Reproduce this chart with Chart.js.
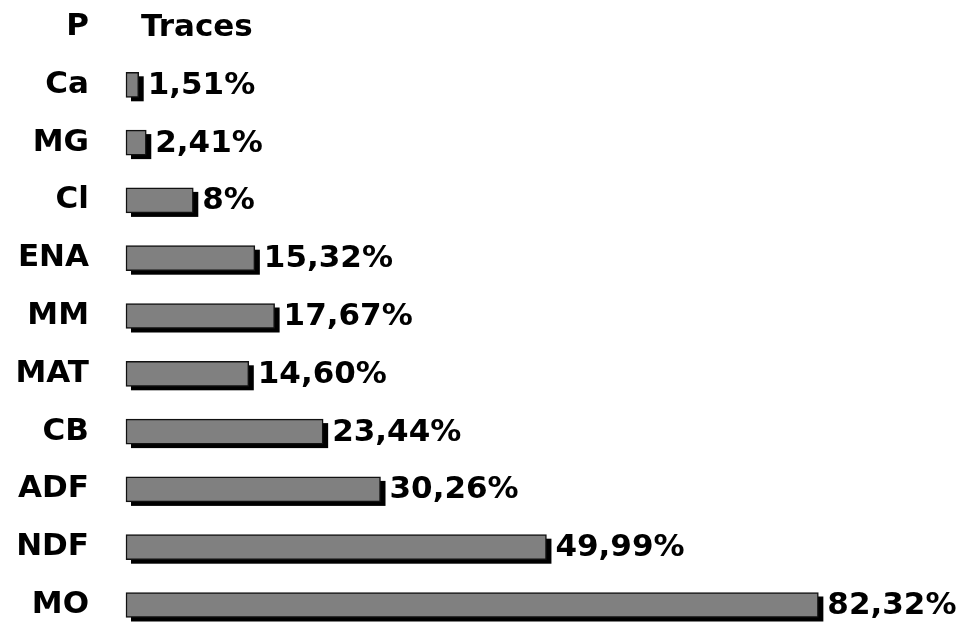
<!DOCTYPE html>
<html>
<head>
<meta charset="utf-8">
<script src="https://cdn.jsdelivr.net/npm/chart.js@4/dist/chart.umd.min.js"></script>
<style>
  html, body { margin: 0; padding: 0; background: #fff; overflow: hidden; }
  #wrap { width: 963px; height: 622px; position: relative; }
</style>
</head>
<body>
<div id="wrap"><canvas id="grafico"></canvas></div>
<script>
// dados do gráfico
const categorias = ['P', 'Ca', 'MG', 'Cl', 'ENA', 'MM', 'MAT', 'CB', 'ADF', 'NDF', 'MO'];
const valores = [0, 1.51, 2.41, 8, 15.32, 17.67, 14.60, 23.44, 30.26, 49.99, 82.32];
const rotulos = ['Traces', '1,51%', '2,41%', '8%', '15,32%', '17,67%', '14,60%', '23,44%', '30,26%', '49,99%', '82,32%'];

const fonte = { family: '"DejaVu Sans", sans-serif', size: 31, weight: 'bold' };

// sombra preta deslocada por baixo das barras
const sombraBarras = {
    id: 'sombraBarras',
    beforeDatasetsDraw(chart) {
        const ctx = chart.ctx;
        const meta = chart.getDatasetMeta(0);
        ctx.save();
        ctx.fillStyle = '#000';
        meta.data.forEach(bar => {
            const esq = Math.min(bar.base, bar.x);
            const larg = Math.abs(bar.x - bar.base);
            if (larg <= 0) return;
            ctx.fillRect(esq + 5, bar.y - bar.height / 2 + 4, larg, bar.height);
        });
        ctx.restore();
    }
};

// rótulos de valor à direita de cada barra
const rotulosValor = {
    id: 'rotulosValor',
    afterDatasetsDraw(chart) {
        const ctx = chart.ctx;
        const meta = chart.getDatasetMeta(0);
        ctx.save();
        ctx.font = `${fonte.weight} ${fonte.size}px ${fonte.family}`;
        ctx.fillStyle = '#000';
        ctx.textAlign = 'left';
        ctx.textBaseline = 'middle';
        meta.data.forEach((bar, i) => {
            const extra = valores[i] === 0 ? 15 : 9;
            ctx.fillText(rotulos[i], bar.x + extra, bar.y + 1);
        });
        ctx.restore();
    }
};

new Chart(document.getElementById('grafico'), {
    type: 'bar',
    data: {
        labels: categorias,
        datasets: [{
            data: valores,
            backgroundColor: '#808080',
            borderColor: '#111',
            borderWidth: 1.5,
            borderSkipped: false,
            barThickness: 25,
            clip: false
        }]
    },
    options: {
        indexAxis: 'y',
        responsive: true,
        maintainAspectRatio: false,
        animation: false,
        layout: { padding: { top: 27, bottom: 17, left: 0, right: 38 } },
        plugins: { legend: { display: false }, tooltip: { enabled: false } },
        scales: {
            x: { display: false, min: 0, max: 95 },
            y: {
                offset: false,
                grid: { display: false, drawTicks: false },
                border: { display: false },
                ticks: { color: '#000', font: fonte, padding: 37 },
                afterFit(scale) {
                    scale.width = 126;
                    scale.paddingTop = 0;
                    scale.paddingBottom = 0;
                }
            }
        }
    },
    plugins: [sombraBarras, rotulosValor]
});
</script>
</body>
</html>
